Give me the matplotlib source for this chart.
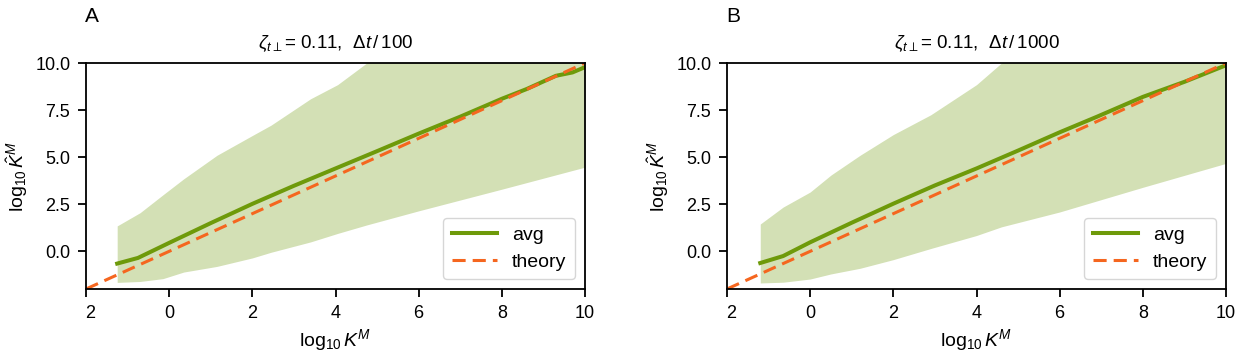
import numpy as np
import matplotlib
matplotlib.use("Agg")
import matplotlib.pyplot as plt
from matplotlib.ticker import FuncFormatter

plt.rcParams['font.family'] = ['Liberation Sans', 'DejaVu Sans']
plt.rcParams['mathtext.fontset'] = 'custom'
plt.rcParams['mathtext.rm'] = 'Liberation Sans'
plt.rcParams['mathtext.it'] = 'Liberation Sans:italic'
plt.rcParams['mathtext.bf'] = 'Liberation Sans:bold'

# --- panel A (dt/100) ---
a_x = [-1.25, -0.75, 0.0, 1.0, 2.0, 3.0, 4.0, 5.0, 6.0, 7.0, 8.0, 8.6, 9.3, 9.7, 10.0]
a_avg = [-0.65, -0.35, 0.45, 1.5, 2.52, 3.48, 4.4, 5.32, 6.25, 7.15, 8.1, 8.62, 9.32, 9.5, 9.78]
a_bx = [-1.25, -0.7, -0.15, 0.35, 1.15, 2.0, 2.45, 3.4, 4.05, 4.75, 6.0, 8.0, 10.0]
a_hi = [1.35, 2.05, 3.0, 3.85, 5.1, 6.15, 6.7, 8.1, 8.85, 10.0, 11.8, 13.5, 15.0]
a_lo = [-1.65, -1.6, -1.45, -1.1, -0.8, -0.35, -0.05, 0.5, 0.95, 1.4, 2.15, 3.3, 4.47]

# --- panel B (dt/1000) ---
b_x = [-1.2, -0.65, 0.0, 1.0, 2.0, 3.0, 4.0, 5.0, 6.0, 6.9, 8.0, 9.0, 10.0]
b_avg = [-0.62, -0.25, 0.48, 1.52, 2.53, 3.5, 4.4, 5.35, 6.32, 7.15, 8.2, 9.0, 9.88]
b_bx = [-1.2, -0.65, 0.0, 0.5, 1.2, 2.0, 2.9, 4.0, 4.6, 6.0, 8.0, 10.0]
b_hi = [1.45, 2.35, 3.15, 4.05, 5.1, 6.2, 7.25, 8.85, 10.0, 11.8, 13.5, 15.0]
b_lo = [-1.68, -1.64, -1.47, -1.2, -0.9, -0.44, 0.15, 0.84, 1.3, 2.09, 3.4, 4.67]

theory_x = [-2, 10]
titles = [r'$\zeta_{t\perp}$= 0.11,  $\Delta t\,/\,100$',
          r'$\zeta_{t\perp}$= 0.11,  $\Delta t\,/\,1000$']
letters = ['A', 'B']

green = '#6e9a0a'
orange = '#f5661f'


def xfmt(v, p):
    # the minus sign is blank in the original labels
    if v < 0:
        return '\u2007%d' % abs(v)
    return '%d' % v


fig = plt.figure(figsize=(12.41, 3.57), dpi=100)
w = 499 / 1241
ax1 = fig.add_axes([86 / 1241, 1 - 289 / 357, w, 226 / 357])
ax2 = fig.add_axes([727 / 1241, 1 - 289 / 357, w, 226 / 357])

panels = [(ax1, a_x, a_avg, a_bx, a_lo, a_hi), (ax2, b_x, b_avg, b_bx, b_lo, b_hi)]
for i, (ax, x, avg, bx, lo, hi) in enumerate(panels):
    ax.fill_between(bx, lo, hi, color=green, alpha=0.3, lw=0)
    ax.plot(x, avg, color=green, lw=2.9, label='avg')
    ax.plot(theory_x, theory_x, color=orange, lw=2.2, ls=(0, (4.3, 2.3)), label='theory')
    ax.set_xlim(-2, 10)
    ax.set_ylim(-2, 10)
    ax.set_xticks([-2, 0, 2, 4, 6, 8, 10])
    ax.set_yticks([0, 2.5, 5, 7.5, 10])
    ax.xaxis.set_major_formatter(FuncFormatter(xfmt))
    ax.yaxis.set_major_formatter(FuncFormatter(lambda v, p: '%.1f' % v))
    ax.tick_params(labelsize=13, length=5.8, width=1.3, pad=5.5)
    for s in ax.spines.values():
        s.set_linewidth(1.3)
    ax.set_xlabel(r'$\log_{10} K^M$', fontsize=14, labelpad=4)
    ax.set_ylabel(r'$\log_{10} \hat{K}^M$', fontsize=14, labelpad=4)
    ax.set_title(titles[i], fontsize=13.5, pad=11)
    ax.legend(loc='lower right', fontsize=14, handlelength=2.3, handletextpad=0.8,
              borderpad=0.45, labelspacing=0.45)

fig.text(85 / 1241, 1 - 22 / 357, letters[0], fontsize=15, va='baseline', ha='left')
fig.text(726 / 1241, 1 - 22 / 357, letters[1], fontsize=15, va='baseline', ha='left')

fig.savefig('out.png', dpi=100)
